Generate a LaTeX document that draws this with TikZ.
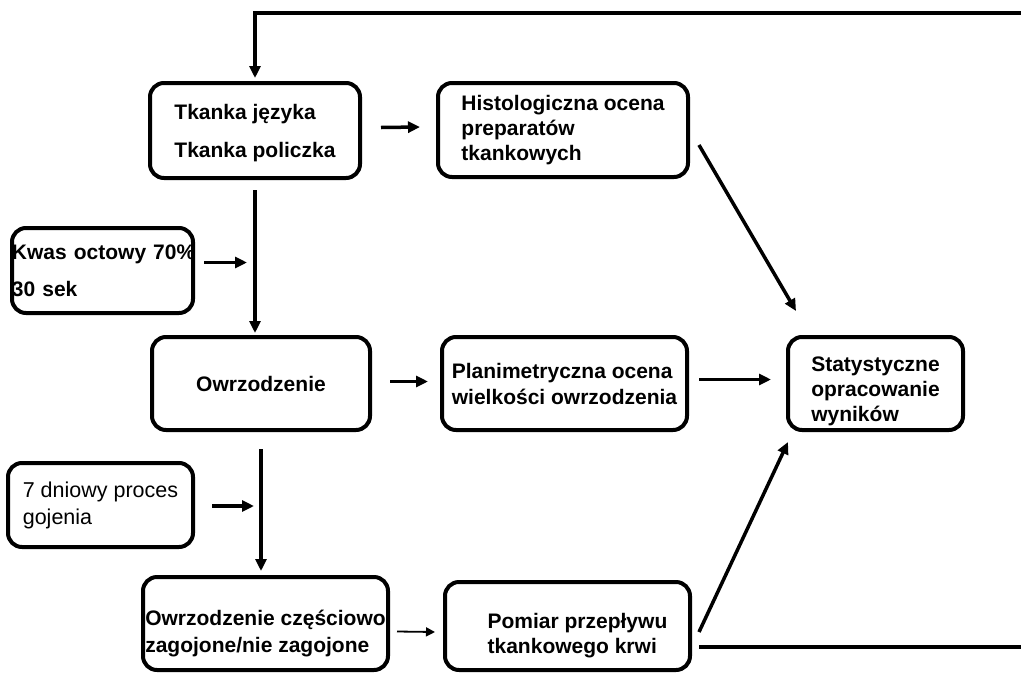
\documentclass[tikz,border=0pt]{standalone}
\usepackage{fontspec}
\setmainfont{Liberation Sans}
\usetikzlibrary{arrows.meta}

\begin{document}
\begin{tikzpicture}[x=1pt,y=-1pt,
  box/.style={draw,line width=4pt,rounded corners=14pt,align=left,inner sep=0pt,
    font=\bfseries\fontsize{21}{25}\selectfont},
  arr/.style={line width=3.5pt,-{Triangle[length=12pt,width=11pt]}},
  thinarr/.style={line width=1.8pt,-{Triangle[length=9pt,width=9pt]}},
  loopline/.style={line width=4pt}]
\useasboundingbox (0,0) rectangle (1021,673);
% Left column
\node[box,minimum width=210pt,minimum height=95pt] (tkanka) at (255,130.5)
  {\rule{0pt}{21pt}Tkanka języka\\[13pt]Tkanka policzka};
\node[box,text width=181pt,minimum height=85pt] (kwas) at (102.5,270.5)
  {\mbox{Kwas octowy 70\%}\\[12pt]30 sek};
\node[box,minimum width=218pt,minimum height=93pt] (owrz) at (261,383.5) {Owrzodzenie};
\node[box,font=\fontsize{21.5}{27}\selectfont,minimum width=185pt,minimum height=84pt] (dni) at (100.5,505)
  {7 dniowy proces\\gojenia};
\node[box,minimum width=245pt,minimum height=93pt] (czesc) at (265.5,623.5)
  {\rule{0pt}{36pt}Owrzodzenie częściowo\\[2pt]zagojone/nie zagojone};
% Middle column
\node[box,minimum width=250pt,minimum height=94pt] (histo) at (563,130)
  {Histologiczna ocena\\preparatów\\tkankowych};
\node[box,minimum width=245pt,minimum height=93pt] (plan) at (564.5,383.5)
  {Planimetryczna ocena\\[1pt]wielkości owrzodzenia};
\node[box,minimum width=245pt,minimum height=88pt] (pomiar) at (567.5,626)
  {\rule{0pt}{34pt}\hspace*{20pt}Pomiar przepływu\\\hspace*{20pt}tkankowego krwi};
% Right column
\node[box,minimum width=175pt,minimum height=93pt] (stat) at (875.5,383.5)
  {\rule{0pt}{31pt}Statystyczne\\opracowanie\\wyników};
% Edge points of the loop
\coordinate (edget) at (1021,13);
\coordinate (edgeb) at (1021,647);
% Vertical flow
\draw[arr] ([yshift=-10pt]tkanka.south) -- ([yshift=2pt]tkanka.south |- owrz.north);
\draw[arr] ([yshift=-17pt]owrz.south) -- ([yshift=4pt]owrz.south |- czesc.north);
\draw[arr] ([xshift=9pt,yshift=8pt]kwas.east) -- ([xshift=-8pt,yshift=8pt]kwas.east -| tkanka.south);
\draw[arr] ([xshift=17pt,yshift=-1pt]dni.east) -- ([xshift=-7pt,yshift=-1pt]dni.east -| owrz.south);
% Horizontal flow
\draw[arr] ([xshift=19pt,yshift=3pt]tkanka.east) -- ([xshift=-16pt,yshift=3pt]histo.west);
\draw[arr] ([xshift=18pt,yshift=2pt]owrz.east) -- ([xshift=-12pt,yshift=2pt]plan.west);
\draw[arr] ([xshift=10pt,yshift=4pt]plan.east) -- ([xshift=-15pt,yshift=4pt]stat.west);
\draw[thinarr] ([xshift=7pt,yshift=-8pt]czesc.east) -- ([xshift=-8pt,yshift=-6pt]pomiar.west);
% Diagonals into the statistics box
\draw[arr] ([xshift=9pt,yshift=-15pt]histo.east) -- ([xshift=10pt,yshift=24pt]stat.north west);
\draw[arr] ([xshift=7pt,yshift=-6pt]pomiar.east) -- ([xshift=2pt,yshift=-10pt]stat.south west);
% Feedback loop
\draw[loopline] ([xshift=7pt,yshift=-21pt]pomiar.east) -- (edgeb);
\draw[arr] (edget) -- (tkanka.north |- edget) -- ([yshift=3pt]tkanka.north);
\end{tikzpicture}
\end{document}
